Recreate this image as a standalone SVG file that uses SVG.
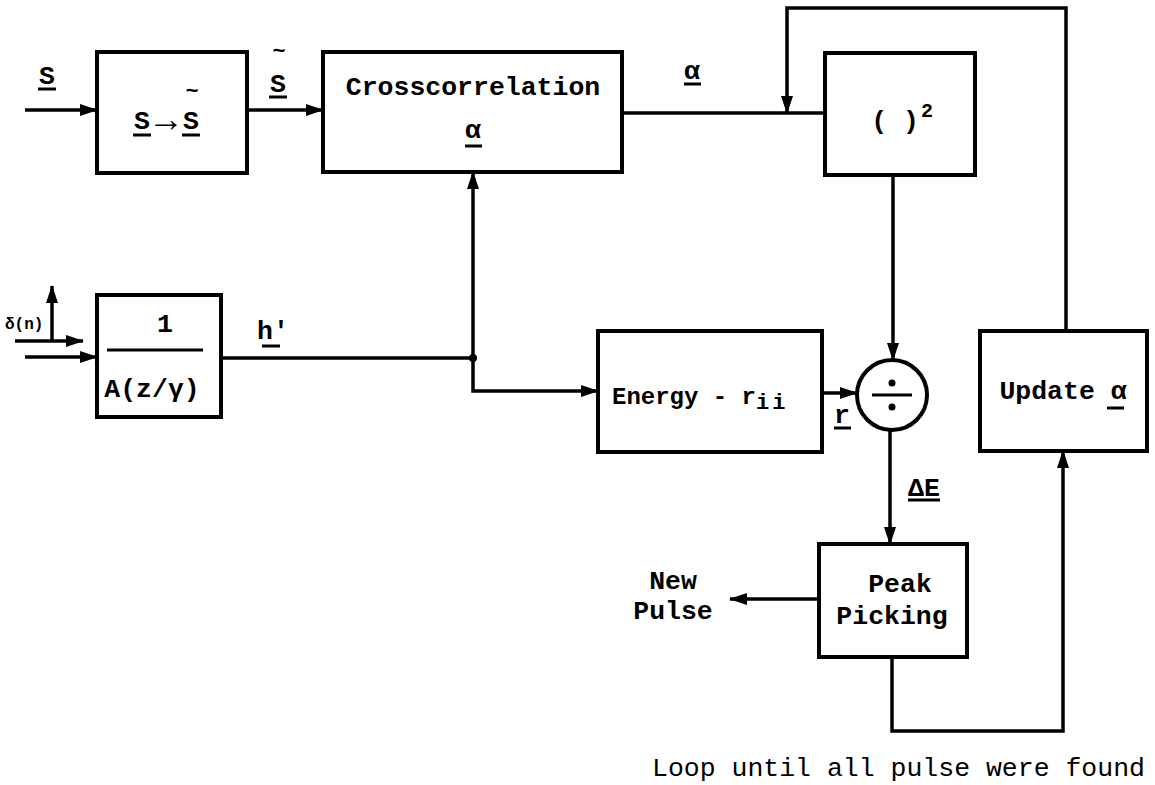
<svg xmlns="http://www.w3.org/2000/svg" width="1155" height="785" viewBox="0 0 1155 785">
<style>
.box{fill:none;stroke:#000;stroke-width:4}
.ln{fill:none;stroke:#000;stroke-width:3.5}
.ul{stroke:#000;stroke-width:3}
.t{font-family:"Liberation Mono","DejaVu Sans Mono",monospace;font-weight:bold;font-size:26.5px;fill:#000}
.m{text-anchor:middle}
.tl{font-size:22px}
</style>
<defs>
<marker id="ah" markerUnits="userSpaceOnUse" markerWidth="18" markerHeight="12" refX="17" refY="6" orient="auto">
<path d="M0,0 L18,6 L0,12 z" fill="#000"/>
</marker>
</defs>
<rect width="1155" height="785" fill="#fff"/>

<g id="connectors">
<line class="ln" x1="25" y1="110" x2="97" y2="110" marker-end="url(#ah)"/>
<line class="ln" x1="247" y1="110" x2="323" y2="110" marker-end="url(#ah)"/>
<line class="ln" x1="622" y1="113" x2="825" y2="113"/>
<polyline class="ln" points="1066,331 1066,8 787,8 787,113" marker-end="url(#ah)"/>
<line class="ln" x1="893" y1="175" x2="893" y2="360" marker-end="url(#ah)"/>
<line class="ln" x1="25" y1="357" x2="97" y2="357" marker-end="url(#ah)"/>
<line class="ln" x1="15" y1="341" x2="83" y2="341" marker-end="url(#ah)"/>
<line class="ln" x1="52" y1="341" x2="52" y2="286" marker-end="url(#ah)"/>
<line class="ln" x1="221" y1="358" x2="473" y2="358"/>
<line class="ln" x1="473" y1="358" x2="473" y2="172" marker-end="url(#ah)"/>
<polyline class="ln" points="473,358 473,391 598,391" marker-end="url(#ah)"/>
<circle cx="473" cy="358" r="4" fill="#000"/>
<line class="ln" x1="822" y1="393" x2="857" y2="393" marker-end="url(#ah)"/>
<line class="ln" x1="890" y1="430" x2="890" y2="544" marker-end="url(#ah)"/>
<line class="ln" x1="819" y1="599" x2="730" y2="599" marker-end="url(#ah)"/>
<polyline class="ln" points="892,657 892,731 1063,731 1063,451" marker-end="url(#ah)"/>
</g>

<g id="labels">
<text class="t m" x="47" y="84">S</text>
<line class="ul" x1="38" y1="89" x2="56" y2="89"/>
<text class="t m" x="278" y="92">S</text>
<text class="t m tl" x="279" y="58">~</text>
<line class="ul" x1="269" y1="97" x2="287" y2="97"/>
<text class="t m" x="692" y="79">α</text>
<line class="ul" x1="684" y1="84" x2="701" y2="84"/>
<text class="t m" x="273" y="339">h'</text>
<line class="ul" x1="262" y1="346" x2="280" y2="346"/>
<text class="t" x="5" y="329" style="font-size:16px">δ(n)</text>
<text class="t m" x="842" y="423">r</text>
<line class="ul" x1="834" y1="428" x2="851" y2="428"/>
<text class="t m" x="924" y="496">ΔE</text>
<line class="ul" x1="908" y1="500" x2="940" y2="500"/>
<text class="t m" x="673" y="589">New</text>
<text class="t m" x="673" y="619">Pulse</text>
<text class="t" x="652" y="776" style="font-weight:normal">Loop until all pulse were found</text>
</g>

<g id="node-transform">
<rect class="box" x="97" y="52" width="150" height="121"/>
<text class="t m" x="142" y="129">S</text>
<text class="t m" x="166" y="131" style="font-size:36px">→</text>
<text class="t m" x="191" y="129">S</text>
<text class="t m tl" x="192" y="98">~</text>
<line class="ul" x1="133" y1="135" x2="151" y2="135"/>
<line class="ul" x1="182" y1="135" x2="200" y2="135"/>
</g>

<g id="node-crosscorrelation">
<rect class="box" x="323" y="52" width="299" height="120"/>
<text class="t m" x="473" y="95">Crosscorrelation</text>
<text class="t m" x="473" y="138">α</text>
<line class="ul" x1="465" y1="146" x2="482" y2="146"/>
</g>

<g id="node-square">
<rect class="box" x="825" y="53" width="150" height="122"/>
<text class="t m" x="895" y="129">( )</text>
<text class="t" x="921" y="117" style="font-size:20px">2</text>
</g>

<g id="node-filter">
<rect class="box" x="97" y="295" width="124" height="122"/>
<text class="t m" x="165" y="332">1</text>
<line class="ul" x1="107" y1="350" x2="203" y2="350"/>
<text class="t m" x="152" y="397">A(z/γ)</text>
</g>

<g id="node-energy">
<rect class="box" x="598" y="331" width="224" height="121"/>
<text class="t" x="612" y="404" style="font-size:24px">Energy - r<tspan dy="5" style="font-size:22px;letter-spacing:3px">ii</tspan></text>
</g>

<g id="node-divide">
<circle cx="892" cy="395" r="35" fill="none" stroke="#000" stroke-width="4"/>
<line class="ul" x1="872" y1="395" x2="912" y2="395"/>
<circle cx="892" cy="383" r="3.5" fill="#000"/>
<circle cx="892" cy="407" r="3.5" fill="#000"/>
</g>

<g id="node-update">
<rect class="box" x="980" y="331" width="167" height="120"/>
<text class="t m" x="1063" y="399">Update α</text>
<line class="ul" x1="1107" y1="408" x2="1124" y2="408"/>
</g>

<g id="node-peak">
<rect class="box" x="819" y="544" width="148" height="113"/>
<text class="t m" x="900" y="592">Peak</text>
<text class="t m" x="892" y="624">Picking</text>
</g>
</svg>
